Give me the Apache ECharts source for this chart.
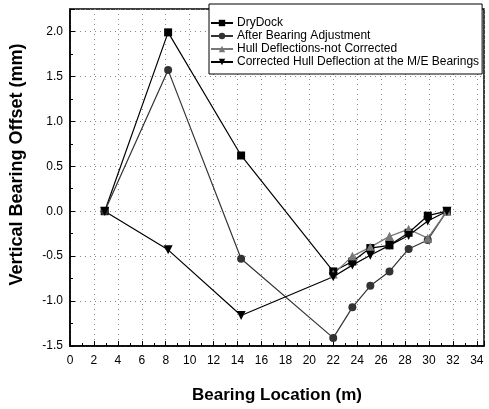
<!DOCTYPE html>
<html><head><meta charset="utf-8">
<script src="https://cdn.jsdelivr.net/npm/echarts@6/dist/echarts.min.js"></script>
<style>html,body{margin:0;padding:0;background:#fff}#c{width:489px;height:409px}</style>
</head><body><div id="c"></div>
<script>
const bearingX = [2.9, 8.2, 14.3, 22.0, 23.6, 25.1, 26.7, 28.3, 29.9, 31.5];
const dryDock = [0, 1.99, 0.62, -0.67, -0.56, -0.41, -0.38, -0.24, -0.05, 0];
const afterAdj = [0, 1.57, -0.53, -1.41, -1.07, -0.83, -0.67, -0.42, -0.32, 0];
const hullNotCorr = [null, null, null, -0.70, -0.50, -0.40, -0.28, -0.20, -0.30, 0];
const hullCorr = [0, -0.43, -1.16, -0.73, -0.60, -0.49, -0.38, -0.27, -0.11, 0];
const seriesNames = ['DryDock', 'After Bearing Adjustment', 'Hull Deflections-not Corrected', 'Corrected Hull Deflection at the M/E Bearings'];

function pairs(ys){ const out=[]; ys.forEach((v,i)=>{ if(v!==null) out.push([bearingX[i], v]); }); return out; }

const chart = echarts.init(document.getElementById('c'));
const font = 'Arial, "Liberation Sans", sans-serif';
function mk(name, data, symbol, color, size){
  return {name, type:'line', data:pairs(data), symbol, symbolSize:size, showSymbol:true,
    lineStyle:{color, width:1.2}, itemStyle:{color, borderWidth:0}, z: 3};
}
chart.setOption({
  animation:false,
  backgroundColor:'#fff',
  grid:{left:66, right:5, top:9, bottom:55, show:true, borderColor:'#000', borderWidth:1.5},
  legend:{orient:'vertical', left:209, top:4, padding:[13,3,6,1], itemGap:1,
    itemWidth:22, itemHeight:8, backgroundColor:'#fff', borderColor:'#000', borderWidth:1,
    textStyle:{fontFamily:font, fontSize:12, color:'#000', padding:[0,0,0,-1]}, data:seriesNames},
  xAxis:{type:'value', min:0, max:34.6, interval:2,
    name:'Bearing Location (m)', nameLocation:'middle', nameGap:41,
    nameTextStyle:{fontFamily:font, fontSize:17, fontWeight:'bold', color:'#000'},
    axisLine:{onZero:false, lineStyle:{color:'#000', width:1.5}},
    axisTick:{inside:true, length:5, lineStyle:{color:'#000'}},
    minorTick:{show:true, splitNumber:2, length:3, lineStyle:{color:'#000'}},
    axisLabel:{fontFamily:font, fontSize:12, color:'#000', margin:9, showMaxLabel:false},
    splitLine:{show:true, lineStyle:{color:'#888', type:[1,4], width:1}}},
  yAxis:{type:'value', min:-1.5, max:2.25, interval:0.5,
    name:'Vertical Bearing Offset (mm)', nameLocation:'middle', nameGap:44,
    nameTextStyle:{fontFamily:font, fontSize:18, fontWeight:'bold', color:'#000', padding:[0,0,0,26]},
    axisLine:{show:true, onZero:false, lineStyle:{color:'#000', width:1.5}},
    axisTick:{show:true, inside:true, length:5, lineStyle:{color:'#000'}},
    minorTick:{show:true, splitNumber:2, length:3, lineStyle:{color:'#000'}},
    axisLabel:{fontFamily:font, fontSize:12, color:'#000', margin:7, showMaxLabel:false,
      formatter:v=>v.toFixed(1)},
    splitLine:{show:true, lineStyle:{color:'#888', type:[1,4], width:1}}},
  series:[
    mk(seriesNames[0], dryDock, 'rect', '#000', 8),
    mk(seriesNames[1], afterAdj, 'circle', '#333', 8),
    mk(seriesNames[2], hullNotCorr, 'triangle', '#777', 9),
    mk(seriesNames[3], hullCorr, 'path://M0,0 L10,0 L5,10 Z', '#000', 9)
  ]
});
</script></body></html>
